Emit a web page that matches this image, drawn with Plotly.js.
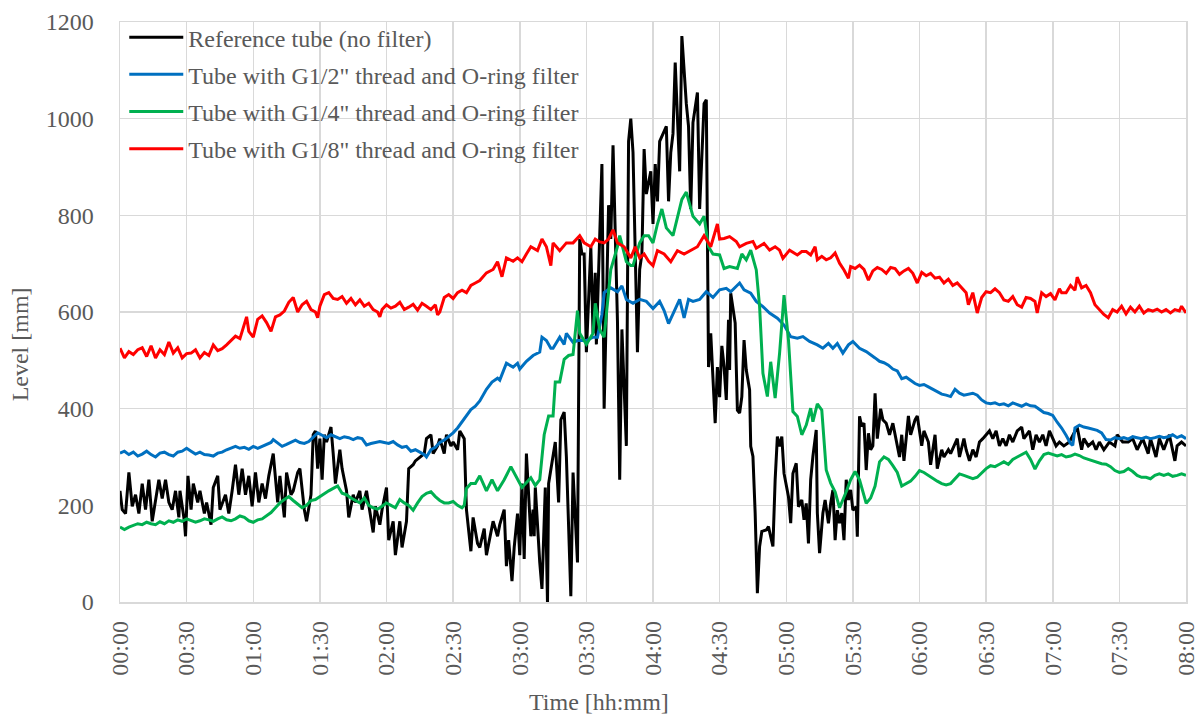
<!DOCTYPE html>
<html>
<head>
<meta charset="utf-8">
<script src="https://cdn.plot.ly/plotly-3.0.1.min.js"></script>
<style>
  html, body { margin: 0; padding: 0; background: #ffffff; }
  #chart { width: 1201px; height: 719px; }
</style>
</head>
<body>
<div id="chart"></div>
<script>
// Time axis in minutes from 00:00; ticks every 30 minutes
const tickMinutes = [0, 30, 60, 90, 120, 150, 180, 210, 240, 270, 300, 330, 360, 390, 420, 450, 480];
const tickLabels = ['00:00', '00:30', '01:00', '01:30', '02:00', '02:30', '03:00', '03:30', '04:00',
                    '04:30', '05:00', '05:30', '06:00', '06:30', '07:00', '07:30', '08:00'];

const xTitle = 'Time [hh:mm]';
const yTitle = 'Level [mm]';

const seriesNames = [
  'Reference tube (no filter)',
  'Tube with G1/2" thread and O-ring filter',
  'Tube with G1/4" thread and O-ring filter',
  'Tube with G1/8" thread and O-ring filter'
];

// Reference tube (no filter)
const refTime = [0,1,2.5,4,5.5,7,8.5,10,11.5,13,14.5,16,17.5,19,20.5,22,23.5,25,26.5,27,29,29.5,30.6,32,33,35,36,38,39,41,42,44,45,47.5,49,50.5,52,53.5,55,56.5,58,59.5,61,62.5,64,65.5,67,69,71,72,74,75,77,
  78,80,81,83,84,86,87,88,89,90,91,92,93,95,96,97,99,100,102,103,105,106,108,109,111,112,114,115,117,118,120,121,123,124,126,127,129,130,132,133,135,137,138,140,141,143,144,146,147,149,150,152,153,155,156,158,159,161,
  162,164,165,167,168,170,171,173,174,175,176.5,177.5,179,180,181,182,183,185,186,186.5,187,189,190,191.5,192.5,193,195,196,197.5,198.5,200,201,203,204,206,207,208,209,210,212,213,214,214.5,215.5,217,218,
  220,221,222,224,225,226,228,229,230,231,233,234,235,236,237,239,240,241,242,243,246,247,248,249,250,252,253,255,256,257,258,260,261,263,264,265,266,268,269,270,
  271,272,273,274,274.5,275,277,278,279,280,281,282,283.5,284,285,286,287,288,289,291,292,293,294,295,296,297,298,299,301,302,303,304.5,305.5,307,308,309,310,311,312,313.5,314,315,316.5,317.5,319,320,321,322,323,324,325,326,327,328,329,330,331.5,332,333,334,335,336,337,
  338,339,340,341,342.5,343.5,345,346.5,348,349.5,351,352,353,355,356,358,359,361,362,364,365,367,368,370,371,373,374,377,378,380,381,382.5,384,385.5,387,388.5,390,391.5,393,394.5,396,397.5,399,400.5,
  402,404,406,407,409.5,411,412.5,414,415.5,417,418.5,420,421.5,423,425,427.5,430,431,433,434,436,438,439.5,441,443,445.5,448,449,451.5,454,456,458,460.5,463,464,466.5,468,470,472.5,475,476,478,480];
const refLevel = [230,191,183,268,198,222,183,245,191,253,167,206,253,214,253,206,191,230,175,230,167,136,261,191,245,206,230,183,206,160,237,261,191,222,183,230,284,222,276,222,261,198,268,206,245,214,261,307,206,261,175,268,222,
  230,268,276,191,167,222,346,354,276,338,253,346,331,362,307,245,315,276,230,175,222,206,230,191,230,198,144,198,160,191,237,128,167,97,167,113,167,276,284,292,300,307,338,346,307,323,338,307,346,323,331,315,354,338,191,105,175,121,
  113,152,97,144,167,136,160,191,74,128,43,113,183,97,245,89,307,136,191,136,237,82,27,237,-4,245,307,331,206,377,393,300,12,268,82,751,720,720,517,735,556,681,533,665,906,400,
  821,751,945,580,253,564,323,953,1000,930,517,688,720,937,844,891,782,906,829,953,984,829,930,969,1116,891,1171,1031,984,813,992,1054,813,1031,1039,486,556,370,486,424,
  530,487,418,584,480,639,577,397,391,425,542,480,439,322,301,184,18,115,146,149,156,135,115,253,342,322,342,266,218,163,266,287,197,211,170,204,121,253,301,356,184,101,184,211,163,204,232,128,190,163,184,128,253,211,232,190,197,135,384,363,370,273,349,
  315,323,432,338,400,377,370,346,370,331,300,346,292,385,346,377,385,323,354,331,284,346,276,315,300,315,307,338,300,338,315,292,315,300,331,338,346,354,338,354,323,338,323,346,
  331,354,362,338,354,315,346,331,346,323,354,338,323,331,323,331,354,362,315,338,323,331,315,331,315,331,323,346,331,331,338,315,338,307,338,300,338,315,346,292,323,331,323];

// Tube with G1/2" thread and O-ring filter
const halfTime = [0,2,4,6,8,10,12,14,16,18,20,22,24,26,28,30,32,34,36,38,40,42,44,46,48,50,52,54,56,58,60,62,64,66,68,69,71,73,75,77,79,81,83,85,87,89,91,93,95,97,99,101,103,105,107,109,111,113,115,117,119,121,123,125,127,129,131,133,135,137,138,140,142,144,146,148,150,152,154,156,158,160,
  162,165,167.5,170,171,174,177,179,180,183,186,189,190,192,194,195,198,200,201,204,206,208,210,213,215,217,218,221,224,226,228,231,234,237,240,243,245,247,249,252,254,256,258,261,264,267,270,273,275,279,281,284,286.5,289.5,292.5,296,299,302,305,307.5,310.5,314,316.5,319,321,323,325.5,328,330,333,336,
  338,340,342,344,346,348,350,352,354,356,358,360,362,364,366,368,370,372,374,376,378,380,382,384,386,388,390,392,394,396,398,400,402,404,406,408,410,412,414,416,418,420,422,424,426,428,429,430,432,434,436,438,440,442,444,446,448,450,452,454,456,458,460,462,464,466,468,470,472,474,476,478,480];
const halfLevel = [308,312,305,310,302,306,312,305,300,308,310,305,302,310,312,318,312,306,310,305,304,302,308,310,315,318,322,318,320,316,322,318,322,325,330,336,328,322,326,330,335,330,328,332,340,350,345,340,346,342,338,342,340,336,340,338,325,328,330,332,330,328,332,325,320,322,312,315,310,305,300,315,320,330,335,342,350,360,372,385,398,405,
  416,440,455,463,459,494,486,494,482,498,510,517,548,541,525,525,548,533,556,537,541,541,541,548,548,595,640,650,642,654,626,618,626,622,607,622,603,576,595,626,588,626,622,626,642,630,646,649,642,660,646,639,622,611,598,587,573,549,546,549,539,532,525,535,525,535,515,532,539,525,518,
  512,505,498,495,490,482,478,462,465,458,452,448,450,445,440,435,430,428,425,440,432,428,430,432,428,418,412,410,412,408,410,406,412,408,405,410,406,405,398,392,390,386,372,360,345,328,324,360,366,362,360,358,355,350,336,335,340,338,340,337,342,340,338,341,338,340,343,340,342,346,340,344,338];

// Tube with G1/4" thread and O-ring filter
const quarterTime = [0,2,4,6,8,10,12,14,16,18,20,22,24,26,28,30,32,34,36,38,40,42,44,46,48,50,52,54,56,58,60,62,64,66,68,70,72,74,76,78,80,82,84,86,88,90,92,94,96,98,100,102,104,106,108,110,112,114,116,118,120,122,124,126,128,130,132,134,136,138,140,142,144,146,148,150,152,154,155,156,158,160,
  162,165,167.5,170,173,176,179,181,185,187,189,191,193,195,196,198,200,202,204,206,207,209,210,213,214,216,218,219,221,224,225,228,230,231,234,236,238,240,242,244,246,249,251,253,255,256.5,258,261,263,265,267,270,272,274.5,278,280,282,284,286.5,288,289.5,291.5,293,295,297,299,301,303,305,307,309,311,312,314,316,318,320,322,324,327,329,331,333,336,
  338,340,342,344,346,348,350,352,354,356,358,360,362,364,366,368,370,372,374,376,378,380,382,384,386,388,390,392,394,396,398,400,402,404,406,408,410,412,414,416,418,420,422,424,426,428,430,432,434,436,438,440,442,444,446,448,450,452,454,456,458,460,462,464,466,468,470,472,474,476,478,480];
const quarterLevel = [155,150,155,158,162,160,165,162,160,166,162,168,165,170,167,172,168,165,168,172,170,167,172,176,170,168,172,178,175,168,165,170,172,178,185,195,205,212,218,210,202,195,200,210,212,218,225,230,235,240,225,222,215,210,205,215,200,195,192,198,205,200,195,212,205,200,190,205,218,225,228,218,210,205,205,208,200,195,200,235,245,245,
  261,230,253,230,253,280,253,237,257,241,253,346,385,385,455,455,502,510,512,603,556,541,533,556,618,564,548,595,688,735,758,704,696,696,743,758,758,743,782,813,774,758,798,833,848,821,798,782,798,735,720,718,690,694,690,720,708,728,687,611,473,425,497,422,515,635,542,394,384,346,366,401,373,410,397,273,246,228,195,228,253,270,253,204,
  215,240,290,300,295,282,268,240,245,250,260,272,268,262,255,250,245,242,245,255,265,262,258,255,258,268,276,282,280,285,290,285,295,300,305,310,295,275,292,305,308,305,302,305,300,302,306,303,298,295,292,290,286,285,280,272,268,270,276,270,262,258,258,255,262,265,262,265,260,262,265,262];

// Tube with G1/8" thread and O-ring filter
const eighthTime = [0,2,4,6,8,10,12,14,16,18,20,22,24,26,28,30,32,34,36,38,40,42,44,46,48,50,52,54,56,57,58,60,62,64,66,68,70,72,74,76,78,80,82,84,86,88,89,90,92,94,96,98,100,102,104,106,108,110,112,114,116,117,118,120,122,124,126,128,130,132,134,136,138,140,142,143,144,146,148,150,152,154,156,158,160,
  162,165,168,170,172,174,177,179,181,183,185,188,190,192,194,195,198,201,204,207,209,212,214,216,218,220,222,224,227,230,232,234,236,238,240,242,245,248,251,254,257,260,263,266,269,270,272,274.5,277.5,279,282,285,286.5,290,292.5,295,297,298.5,301.5,305,307,309,311,313,314,316,318,320,322,324,326,328,329,331,333,335,337,
  339,341,343,345,347,349,351,353,355,357,359,361,363,365,367,369,371,373,375,377,379,381,382,384,386,388,390,392,394,396,398,400,402,404,406,408,410,412,413,415,417,419,421,423,424,426,428,430,431,433,435,437,439,441,443,445,447,449,451,453,455,457,459,461,463,465,467,469,471,473,475,477,478,480];
const eighthLevel = [525,505,518,512,522,526,508,530,505,522,512,538,515,526,505,514,515,522,505,516,510,532,520,524,532,540,550,545,576,590,560,548,585,592,578,560,590,594,602,620,630,600,615,622,605,600,588,612,636,640,628,626,632,618,628,615,625,612,618,605,600,590,605,615,608,612,620,605,610,616,604,618,612,605,615,594,600,630,636,628,640,645,640,655,660,
  665,681,688,704,673,712,705,712,704,720,735,727,751,735,696,743,727,743,743,758,743,735,751,745,743,751,770,743,735,712,735,712,720,705,696,727,720,704,727,720,727,735,758,735,782,751,752,756,746,735,742,746,732,742,728,735,728,711,728,718,725,725,718,735,708,715,708,712,722,701,687,670,694,690,697,688,666,
  685,692,688,680,692,690,678,685,690,680,660,682,675,680,670,672,660,668,655,660,650,640,615,640,598,630,642,640,648,640,625,622,632,615,610,630,628,622,598,640,632,638,625,648,640,640,655,645,672,650,655,640,615,605,595,588,605,600,612,596,610,600,612,598,605,602,606,600,605,598,605,602,612,598];

const lineColors = ['#000000', '#0070C0', '#00B050', '#FF0000'];
const times = [refTime, halfTime, quarterTime, eighthTime];
const levels = [refLevel, halfLevel, quarterLevel, eighthLevel];

const traces = seriesNames.map((name, i) => ({
  type: 'scatter',
  mode: 'lines',
  name: name,
  x: times[i],
  y: levels[i],
  line: { color: lineColors[i], width: 3 },
  legendgroup: 'g' + i
}));

const gridColor = '#d9d9d9';
const textColor = '#595959';
const serif = '"Liberation Serif", "Times New Roman", serif';

const layout = {
  width: 1201,
  height: 719,
  margin: { l: 120, r: 15, t: 22, b: 117 },
  paper_bgcolor: '#ffffff',
  plot_bgcolor: '#ffffff',
  font: { family: serif, color: textColor, size: 24 },
  showlegend: true,
  legend: {
    x: 0.004, y: 1.012, xanchor: 'left', yanchor: 'top',
    bgcolor: 'rgba(255,255,255,0)',
    font: { family: serif, color: textColor, size: 24 },
    itemwidth: 54,
    tracegroupgap: 3
  },
  xaxis: {
    range: [0, 480],
    tickmode: 'array',
    tickvals: tickMinutes,
    ticktext: tickLabels,
    tickangle: -90,
    tickfont: { family: serif, color: textColor, size: 24 },
    ticks: '',
    ticklabelstandoff: 8,
    showgrid: true,
    gridcolor: gridColor,
    gridwidth: 1.5,
    showline: true,
    linecolor: gridColor,
    linewidth: 1.5,
    mirror: true,
    zeroline: false
  },
  yaxis: {
    range: [0, 1200],
    tickmode: 'linear',
    tick0: 0,
    dtick: 200,
    tickfont: { family: serif, color: textColor, size: 24 },
    ticks: '',
    ticklabelstandoff: 20,
    showgrid: true,
    gridcolor: gridColor,
    gridwidth: 1.5,
    showline: true,
    linecolor: gridColor,
    linewidth: 1.5,
    mirror: true,
    zeroline: false
  },
  annotations: [
    {
      text: xTitle, xref: 'paper', yref: 'paper', x: 0.449, y: -0.172,
      xanchor: 'center', yanchor: 'middle', showarrow: false,
      font: { family: serif, color: textColor, size: 24 }
    },
    {
      text: yTitle, xref: 'paper', yref: 'paper', x: -0.093, y: 0.444,
      xanchor: 'center', yanchor: 'middle', showarrow: false, textangle: -90,
      font: { family: serif, color: textColor, size: 24 }
    }
  ]
};

Plotly.newPlot('chart', traces, layout, { displayModeBar: false, staticPlot: true });
</script>
</body>
</html>
